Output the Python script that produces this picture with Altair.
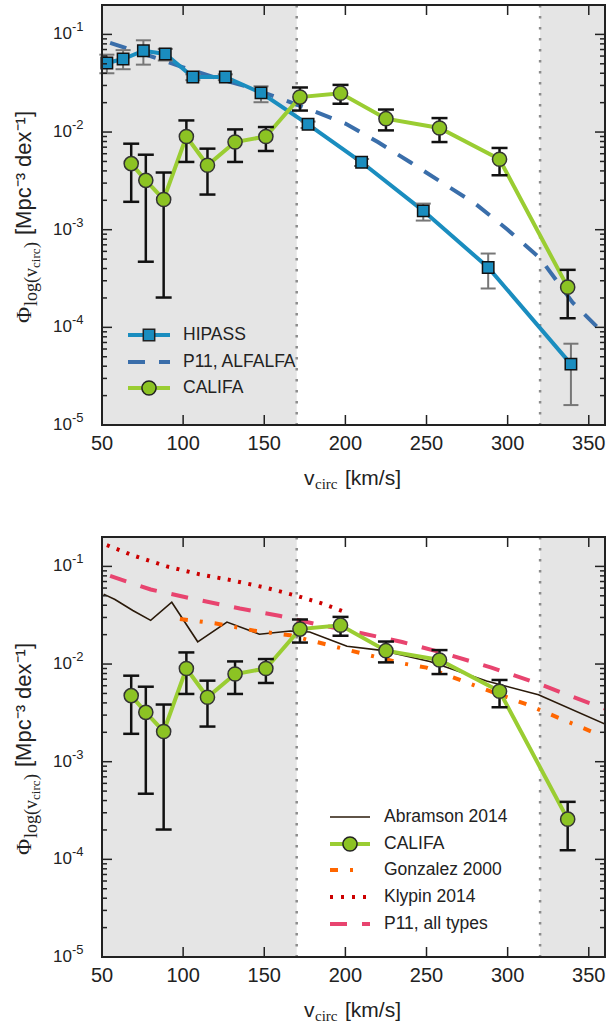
import altair as alt
import pandas as pd

# ---------------- data ----------------
hipass_v = [53, 63, 75.5, 89, 106, 126, 148, 177, 210, 248, 288, 339]
hipass_phi = [0.051, 0.056, 0.068, 0.063, 0.0366, 0.0366, 0.0252, 0.012, 0.0049, 0.00156, 0.00041, 0.000042]
hipass_lo = [0.040, 0.044, 0.049, 0.054, 0.034, 0.034, 0.0202, 0.011, 0.0045, 0.00124, 0.00025, 0.000016]
hipass_hi = [0.062, 0.069, 0.087, 0.071, 0.039, 0.039, 0.0294, 0.0128, 0.0053, 0.00185, 0.00057, 0.000068]

califa_v = [68, 77, 88, 102, 115, 132, 151, 172, 197, 225, 258, 295, 337]
califa_phi = [0.00475, 0.0032, 0.00204, 0.0090, 0.00457, 0.0079, 0.0090, 0.0228, 0.025, 0.0137, 0.0110, 0.00526, 0.000258]
califa_lo = [0.00193, 0.00047, 0.000202, 0.00494, 0.00229, 0.00494, 0.0064, 0.0166, 0.0195, 0.0104, 0.0079, 0.00361, 0.000124]
califa_hi = [0.0076, 0.00586, 0.00385, 0.01315, 0.00676, 0.01064, 0.01125, 0.0286, 0.0304, 0.0170, 0.0139, 0.00687, 0.000388]

p11_alfalfa_v = [55, 70, 85, 100, 120, 140, 160, 180, 200, 220, 240, 260, 280, 300, 320, 340, 360]
p11_alfalfa_phi = [0.082, 0.068, 0.056, 0.046, 0.036, 0.029, 0.022, 0.0165, 0.0122, 0.0079, 0.0049, 0.0030,
                   0.00185, 0.00100, 0.00051, 0.00018, 0.000084]

abramson_v = [51, 58, 69, 80, 93, 109, 127, 147, 166, 178, 201, 221, 252, 287, 319, 360]
abramson_phi = [0.052, 0.0458, 0.0354, 0.028, 0.043, 0.0169, 0.0269, 0.0202, 0.0218, 0.0213, 0.0152, 0.0139,
                0.0106, 0.0067, 0.00484, 0.00243]

gonzalez_v = [98, 121, 145, 166, 190, 213, 236, 250, 279, 311, 322, 356]
gonzalez_phi = [0.029, 0.0259, 0.0218, 0.0197, 0.0156, 0.0125, 0.0101, 0.0092, 0.0061, 0.0039, 0.00327, 0.0019]

klypin_v = [53, 70, 90, 110, 130, 150, 170, 185, 200]
klypin_phi = [0.165, 0.128, 0.100, 0.083, 0.072, 0.061, 0.050, 0.042, 0.034]

p11_all_v = [55, 80, 105, 135, 160, 185, 210, 235, 260, 290, 320, 350, 360]
p11_all_phi = [0.080, 0.058, 0.047, 0.037, 0.031, 0.025, 0.0207, 0.0168, 0.0130, 0.0092, 0.0062, 0.0040, 0.0035]

shade_from = [50, 320]
shade_to = [170, 360]
vlines = [170, 320]

x_tick_values = [100, 150, 200, 250, 300, 350]
x_label_values = ["50", "100", "150", "200", "250", "300", "350"]
y_major = [1e-5, 1e-4, 1e-3, 1e-2, 1e-1]
y_exps = ["-5", "-4", "-3", "-2", "-1"]
y_minor = [k * 10.0 ** e for e in range(-5, -1) for k in range(2, 10)]

# ---------------- styling ----------------
W, H = 503, 420
X_DOMAIN = [50, 360]
Y_DOMAIN = [1e-5, 0.2]
FONT = "Liberation Sans"
SERIF = "Liberation Serif"
INK = "#222222"

C_HIPASS = "#1a8dbf"
C_ALFALFA = "#3a6eaa"
C_CALIFA_LINE = "#9acd32"
C_CALIFA_FILL = "#8cc323"
C_ABR = "#2a1a0a"
C_GONZ = "#ff6600"
C_KLYP = "#cc0000"
C_P11 = "#e8446f"

xs = alt.Scale(domain=X_DOMAIN, nice=False, zero=False)
ys = alt.Scale(type="log", domain=Y_DOMAIN, nice=False)


def X(f):
    return alt.X(f, scale=xs, axis=None)


def Y(f):
    return alt.Y(f, scale=ys, axis=None)


one = pd.DataFrame({"k": [0]})


def background():
    sh = pd.DataFrame({"a": shade_from, "b": shade_to})
    shade = alt.Chart(sh).mark_rect(color="#e5e5e5").encode(
        x=X("a:Q"), x2="b:Q", y=alt.value(0), y2=alt.value(H))
    vl = alt.Chart(pd.DataFrame({"v": vlines})).mark_rule(
        color="#8c8c8c", strokeWidth=2.5, strokeDash=[2.5, 8.5]).encode(
        x=X("v:Q"), y=alt.value(0), y2=alt.value(H))
    return [shade, vl]


def frame():
    ymaj = pd.DataFrame({"v": y_major, "b": ["10"] * len(y_major), "e": y_exps})
    ymin = pd.DataFrame({"v": y_minor})
    xt = pd.DataFrame({"v": x_tick_values})
    xl = pd.DataFrame({"v": [float(s) for s in x_label_values], "s": x_label_values})
    tk = dict(color=INK, strokeWidth=1.5)
    box = alt.Chart(one).mark_rect(fillOpacity=0, stroke=INK, strokeWidth=2).encode(
        x=alt.value(0), x2=alt.value(W), y=alt.value(0), y2=alt.value(H))
    layers = [
        alt.Chart(ymaj).mark_rule(**tk).encode(y=Y("v:Q"), x=alt.value(0), x2=alt.value(10)),
        alt.Chart(ymaj).mark_rule(**tk).encode(y=Y("v:Q"), x=alt.value(W - 10), x2=alt.value(W)),
        alt.Chart(ymin).mark_rule(**tk).encode(y=Y("v:Q"), x=alt.value(0), x2=alt.value(5)),
        alt.Chart(ymin).mark_rule(**tk).encode(y=Y("v:Q"), x=alt.value(W - 5), x2=alt.value(W)),
        alt.Chart(xt).mark_rule(**tk).encode(x=X("v:Q"), y=alt.value(0), y2=alt.value(10)),
        alt.Chart(xt).mark_rule(**tk).encode(x=X("v:Q"), y=alt.value(H - 10), y2=alt.value(H)),
        box,
        alt.Chart(ymaj).mark_text(align="right", baseline="middle", font=FONT, fontSize=17, color=INK).encode(
            y=Y("v:Q"), x=alt.value(-30), text="b:N"),
        alt.Chart(ymaj).mark_text(align="left", baseline="middle", font=FONT, fontSize=13, color=INK, dy=-7).encode(
            y=Y("v:Q"), x=alt.value(-30), text="e:N"),
        alt.Chart(xl).mark_text(align="center", baseline="middle", font=FONT, fontSize=20, color=INK).encode(
            x=X("v:Q"), y=alt.value(H + 19), text="s:N"),
    ]
    # x title: v_circ [km/s]
    t = alt.Chart(one)
    layers += [
        t.mark_text(text="v", align="left", baseline="alphabetic", font=FONT, fontSize=21, color=INK).encode(
            x=alt.value(202), y=alt.value(H + 60)),
        t.mark_text(text="circ", align="left", baseline="alphabetic", font=SERIF, fontSize=15, color=INK).encode(
            x=alt.value(213), y=alt.value(H + 64)),
        t.mark_text(text="[km/s]", align="left", baseline="alphabetic", font=FONT, fontSize=21, color=INK).encode(
            x=alt.value(243), y=alt.value(H + 60)),
    ]
    # y title: Phi_log(v_circ) [Mpc^-3 dex^-1]
    layers += [
        t.mark_text(text="Φ", angle=270, align="left", baseline="alphabetic", font=SERIF, fontSize=22, color=INK).encode(
            x=alt.value(-71), y=alt.value(318)),
        t.mark_text(text="log(v", angle=270, align="left", baseline="alphabetic", font=SERIF, fontSize=18, color=INK).encode(
            x=alt.value(-65), y=alt.value(301)),
        t.mark_text(text="circ", angle=270, align="left", baseline="alphabetic", font=SERIF, fontSize=13, color=INK).encode(
            x=alt.value(-62), y=alt.value(263)),
        t.mark_text(text=")", angle=270, align="left", baseline="alphabetic", font=SERIF, fontSize=18, color=INK).encode(
            x=alt.value(-65), y=alt.value(243)),
        t.mark_text(text="[Mpc⁻³ dex⁻¹]", angle=270, align="left", baseline="alphabetic", font=FONT, fontSize=22, color=INK).encode(
            x=alt.value(-71), y=alt.value(230)),
    ]
    return layers


def errorbars(v, lo, hi, color, width, cap):
    df = pd.DataFrame({"v": v, "lo": lo, "hi": hi})
    base = alt.Chart(df)
    return [
        base.mark_rule(color=color, strokeWidth=width, clip=True).encode(x=X("v:Q"), y=Y("lo:Q"), y2="hi:Q"),
        base.mark_tick(orient="horizontal", color=color, size=cap, thickness=width, opacity=1).encode(
            x=X("v:Q"), y=Y("lo:Q")),
        base.mark_tick(orient="horizontal", color=color, size=cap, thickness=width, opacity=1).encode(
            x=X("v:Q"), y=Y("hi:Q")),
    ]


def line(v, phi, color, width, dash=None):
    df = pd.DataFrame({"v": v, "phi": phi})
    kw = dict(color=color, strokeWidth=width, clip=True, strokeCap="butt")
    if dash is not None:
        kw["strokeDash"] = dash
    return alt.Chart(df).mark_line(**kw).encode(x=X("v:Q"), y=Y("phi:Q"))


def califa_layers():
    df = pd.DataFrame({"v": califa_v, "phi": califa_phi})
    return [line(califa_v, califa_phi, C_CALIFA_LINE, 4)] + \
        errorbars(califa_v, califa_lo, califa_hi, "#111111", 2.5, 16) + [
        alt.Chart(df).mark_point(shape="circle", filled=True, fill=C_CALIFA_FILL, stroke="#333333",
                                 strokeWidth=1.5, size=200, opacity=1).encode(x=X("v:Q"), y=Y("phi:Q"))]


def legend_row(label, y, x0, x1, tx, color, width, dash=None, marker=None, mfill=None, msize=150):
    t = alt.Chart(pd.DataFrame({"label": [label]}))
    kw = dict(color=color, strokeWidth=width, strokeCap="butt")
    if dash is not None:
        kw["strokeDash"] = dash
    out = [t.mark_rule(**kw).encode(x=alt.value(x0), x2=alt.value(x1), y=alt.value(y))]
    if marker is not None:
        out.append(t.mark_point(shape=marker, filled=True, fill=mfill, stroke="#222222", strokeWidth=1.5,
                                size=msize, opacity=1).encode(x=alt.value((x0 + x1) / 2), y=alt.value(y)))
    out.append(t.mark_text(align="left", baseline="middle", font=FONT, fontSize=17.5, color=INK).encode(
        x=alt.value(tx), y=alt.value(y), text="label:N"))
    return out


# ---------------- top panel ----------------
hdf = pd.DataFrame({"v": hipass_v, "phi": hipass_phi})
top_layers = background() + [
    line(p11_alfalfa_v, p11_alfalfa_phi, C_ALFALFA, 4, [17, 14]),
    line(hipass_v, hipass_phi, C_HIPASS, 4),
] + errorbars(hipass_v, hipass_lo, hipass_hi, "#777777", 2, 15) + [
    alt.Chart(hdf).mark_point(shape="square", filled=True, fill=C_HIPASS, stroke="#111111",
                              strokeWidth=1.5, size=130, opacity=1).encode(x=X("v:Q"), y=Y("phi:Q")),
] + califa_layers()
top_layers += legend_row("HIPASS", 330, 26, 68, 81, C_HIPASS, 4, marker="square", mfill=C_HIPASS, msize=130)
top_layers += legend_row("P11, ALFALFA", 357, 26, 68, 81, C_ALFALFA, 4, dash=[17, 14])
top_layers += legend_row("CALIFA", 383, 26, 68, 81, C_CALIFA_LINE, 4, marker="circle", mfill=C_CALIFA_FILL, msize=200)
top_layers += frame()
top = alt.layer(*top_layers).properties(width=W, height=H)

# ---------------- bottom panel ----------------
bot_layers = background() + [
    line(abramson_v, abramson_phi, C_ABR, 1.6),
    line(gonzalez_v, gonzalez_phi, C_GONZ, 4, [8, 12, 3, 12]),
    line(klypin_v, klypin_phi, C_KLYP, 4, [3, 7.5]),
    line(p11_all_v, p11_all_phi, C_P11, 4, [17, 15]),
] + califa_layers()
bot_layers += legend_row("Abramson 2014", 280, 228, 268, 282, C_ABR, 1.6)
bot_layers += legend_row("CALIFA", 307, 228, 268, 282, C_CALIFA_LINE, 4, marker="circle", mfill=C_CALIFA_FILL, msize=200)
bot_layers += legend_row("Gonzalez 2000", 333, 228, 268, 282, C_GONZ, 4, dash=[8, 12, 3, 30])
bot_layers += legend_row("Klypin 2014", 360, 228, 268, 282, C_KLYP, 4, dash=[3, 8])
bot_layers += legend_row("P11, all types", 387, 228, 268, 282, C_P11, 4, dash=[17, 15])
bot_layers += frame()
bottom = alt.layer(*bot_layers).properties(width=W, height=H)

chart = alt.vconcat(top, bottom, spacing=112, bounds="flush").properties(
    padding={"left": 13, "top": 3, "right": 0, "bottom": 0}
).configure_view(stroke=None)

chart.save("out.html", embed_options={"renderer": "svg", "actions": False})
